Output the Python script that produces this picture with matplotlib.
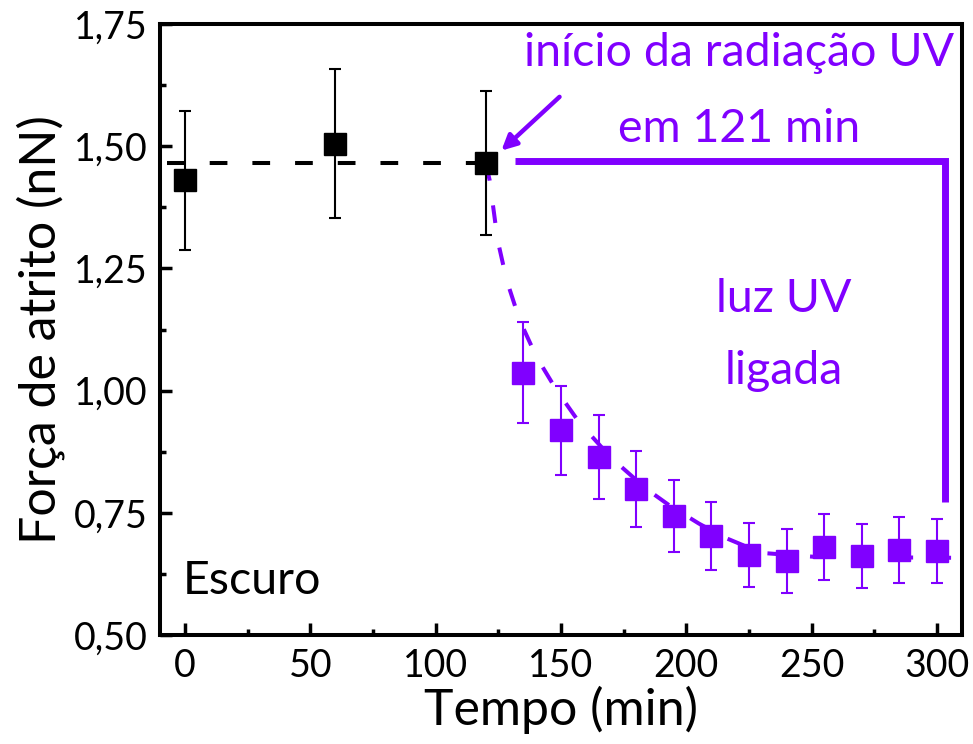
import matplotlib
matplotlib.use("Agg")
import matplotlib.pyplot as plt
from matplotlib.ticker import MultipleLocator, FuncFormatter

plt.rcParams['font.family'] = ['Lato', 'DejaVu Sans']

PURPLE = '#8000ff'

# Dark measurements
t_dark = [0, 60, 120]
f_dark = [1.43, 1.505, 1.465]
e_dark = [0.143, 0.152, 0.147]

# UV measurements
t_uv = [135, 150, 165, 180, 195, 210, 225, 240, 255, 270, 285, 300]
f_uv = [1.037, 0.919, 0.864, 0.799, 0.743, 0.703, 0.664, 0.651, 0.680, 0.662, 0.674, 0.672]
e_uv = [0.104, 0.091, 0.086, 0.078, 0.074, 0.070, 0.066, 0.065, 0.067, 0.065, 0.067, 0.066]

# Dark reference level (dashed black line)
t_dark_line = [-7, 120]
f_dark_line = [1.465, 1.465]

# Decay guide curve (dashed purple)
t_fit = [120, 121.5, 124.7, 128.3, 133.5, 140.2, 148.2, 157.4, 170.1, 184, 193, 205, 215, 230, 251, 275, 305.6]
f_fit = [1.465, 1.431, 1.308, 1.226, 1.144, 1.069, 1.001, 0.934, 0.862, 0.799, 0.766, 0.728, 0.700, 0.668, 0.660, 0.659, 0.658]

# UV-on bracket
t_bracket = [131.8, 303, 303]
f_bracket = [1.470, 1.470, 0.772]

fig = plt.figure(figsize=(9.73, 7.44), dpi=100)
ax = fig.add_axes([0.1644, 0.1465, 0.8244, 0.8212])

ax.plot(t_dark_line, f_dark_line, color='black', lw=2.9, dashes=(4.4, 6.2), zorder=2)
ax.plot(t_fit, f_fit, color=PURPLE, lw=2.9, dashes=(4.4, 6.2), zorder=2)
ax.plot(t_bracket, f_bracket, color=PURPLE, lw=5, solid_capstyle='butt', solid_joinstyle='miter', zorder=2)

ax.errorbar(t_dark, f_dark, yerr=e_dark, fmt='s', color='black', ms=16, mec='black',
            ecolor='black', elinewidth=1.5, capsize=4.5, capthick=1.5, zorder=3)
ax.errorbar(t_uv, f_uv, yerr=e_uv, fmt='s', color=PURPLE, ms=16, mec=PURPLE,
            ecolor=PURPLE, elinewidth=1.5, capsize=4.5, capthick=1.5, zorder=3)

ax.annotate('', xy=(126.2, 1.491), xytext=(149.4, 1.601),
            arrowprops=dict(arrowstyle='-|>,head_length=0.9,head_width=0.45', color=PURPLE, lw=3.2,
                            shrinkA=0, shrinkB=0))

TS = 33.5
ax.text(221, 1.690, 'início da radiação UV', color=PURPLE, fontsize=TS, ha='center', va='center')
ax.text(221, 1.536, 'em 121 min', color=PURPLE, fontsize=TS, ha='center', va='center')
ax.text(239, 1.188, 'luz UV', color=PURPLE, fontsize=TS, ha='center', va='center')
ax.text(239, 1.040, 'ligada', color=PURPLE, fontsize=TS, ha='center', va='center')
ax.text(-1, 0.610, 'Escuro', color='black', fontsize=TS, ha='left', va='center')

ax.set_xlim(-10, 310)
ax.set_ylim(0.5, 1.75)
ax.xaxis.set_major_locator(MultipleLocator(50))
ax.xaxis.set_minor_locator(MultipleLocator(25))
ax.yaxis.set_major_locator(MultipleLocator(0.25))
ax.yaxis.set_minor_locator(MultipleLocator(0.125))
ax.yaxis.set_major_formatter(FuncFormatter(lambda v, p: f'{v:.2f}'.replace('.', ',')))

ax.tick_params(which='major', direction='in', length=8.5, width=2.5, labelsize=27, pad=9)
ax.tick_params(which='minor', direction='in', length=4, width=2.5)
for s in ax.spines.values():
    s.set_linewidth(2.9)

ax.set_xlabel('Tempo (min)', fontsize=36, labelpad=2)
ax.set_ylabel('Força de atrito (nN)', fontsize=36, labelpad=6)

fig.savefig('out.png', dpi=100)
